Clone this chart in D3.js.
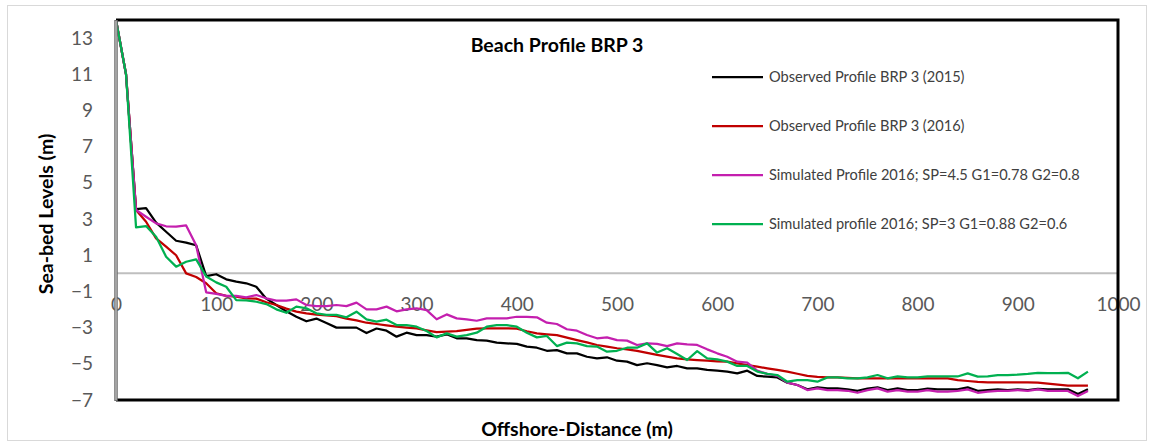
<!DOCTYPE html>
<html>
<head>
<meta charset="utf-8">
<script src="https://cdn.jsdelivr.net/npm/d3@7"></script>
<style>
  body { margin: 0; background: #fff; }
  svg { display: block; font-family: Lato, "Liberation Sans", sans-serif; }
</style>
</head>
<body>
<svg id="chart" width="1152" height="446"></svg>
<script>
// offshore distance (m), one reading every 10 m
var distance = d3.range(0, 980, 10);

var obs2015 = [14, 11, 3.55, 3.6, 2.8, 2.3, 1.8, 1.7, 1.55, -0.15,
  -0.05, -0.33, -0.46, -0.55, -0.74, -1.4, -1.75, -2.1, -2.4, -2.65,
  -2.5, -2.75, -3.0, -3.0, -3.0, -3.3, -3.05, -3.17, -3.5, -3.28,
  -3.41, -3.41, -3.5, -3.37, -3.59, -3.59, -3.69, -3.72, -3.83, -3.87,
  -3.9, -4.05, -4.11, -4.28, -4.24, -4.42, -4.42, -4.61, -4.7, -4.64,
  -4.83, -4.88, -5.07, -4.97, -5.07, -5.2, -5.12, -5.25, -5.25, -5.34,
  -5.38, -5.43, -5.53, -5.38, -5.67, -5.71, -5.75, -6.04, -6.17, -6.41,
  -6.3, -6.36, -6.36, -6.41, -6.49, -6.37, -6.3, -6.45, -6.36, -6.45,
  -6.45, -6.37, -6.41, -6.41, -6.41, -6.3, -6.49, -6.45, -6.41, -6.45,
  -6.41, -6.45, -6.38, -6.41, -6.41, -6.41, -6.67, -6.41];

var obs2016 = [14, 11, 3.5, 2.85, 1.93, 1.47, 1.0, 0.0, -0.2, -0.55,
  -1.1, -1.25, -1.29, -1.38, -1.4, -1.6, -1.75, -1.95, -2.12, -2.21,
  -2.28, -2.32, -2.36, -2.5, -2.6, -2.73, -2.8, -2.88, -2.95, -3.0,
  -3.04, -3.15, -3.25, -3.22, -3.19, -3.12, -3.06, -3.04, -3.04, -3.04,
  -3.06, -3.2, -3.32, -3.37, -3.41, -3.55, -3.69, -3.82, -3.96, -4.05,
  -4.14, -4.2, -4.28, -4.4, -4.51, -4.6, -4.7, -4.75, -4.79, -4.83,
  -4.86, -4.88, -4.97, -5.07, -5.16, -5.25, -5.34, -5.43, -5.55, -5.67,
  -5.72, -5.75, -5.75, -5.78, -5.8, -5.8, -5.8, -5.8, -5.8, -5.8,
  -5.8, -5.8, -5.8, -5.8, -5.9, -5.95, -6.0, -6.02, -6.02, -6.02,
  -6.02, -6.02, -6.04, -6.1, -6.15, -6.21, -6.21, -6.21];

var simSP45 = [14, 11, 3.5, 3.13, 2.76, 2.6, 2.58, 2.65, 1.55, -1.05,
  -1.14, -1.25, -1.25, -1.33, -1.2, -1.38, -1.51, -1.51, -1.44, -1.75,
  -1.81, -1.81, -1.75, -1.81, -1.62, -1.99, -1.99, -1.84, -2.1, -1.99,
  -1.93, -2.03, -2.54, -2.27, -2.49, -2.54, -2.62, -2.49, -2.49, -2.49,
  -2.4, -2.4, -2.43, -2.73, -2.8, -3.09, -3.17, -3.41, -3.59, -3.54,
  -3.69, -3.72, -3.96, -3.87, -3.9, -4.02, -3.87, -3.93, -3.96, -4.2,
  -4.42, -4.61, -4.88, -4.94, -5.38, -5.56, -5.67, -6.04, -6.17, -6.45,
  -6.36, -6.45, -6.45, -6.49, -6.6, -6.45, -6.36, -6.54, -6.45, -6.54,
  -6.54, -6.45, -6.54, -6.54, -6.49, -6.41, -6.6, -6.54, -6.49, -6.49,
  -6.45, -6.49, -6.41, -6.5, -6.5, -6.5, -6.78, -6.5];

var simSP3 = [14, 11, 2.54, 2.61, 2.02, 0.92, 0.37, 0.64, 0.77, -0.17,
  -0.5, -0.74, -1.48, -1.5, -1.57, -1.7, -1.99, -2.18, -1.84, -1.93,
  -2.21, -2.3, -2.3, -2.43, -2.12, -2.54, -2.67, -2.56, -2.86, -2.86,
  -2.95, -3.19, -3.54, -3.32, -3.5, -3.41, -3.28, -2.95, -2.86, -2.86,
  -2.95, -3.28, -3.54, -3.46, -4.02, -3.83, -3.87, -4.02, -4.05, -4.33,
  -4.28, -4.11, -4.11, -3.87, -4.38, -4.14, -4.46, -4.79, -4.3, -4.7,
  -4.75, -4.88, -5.12, -5.12, -5.43, -5.56, -5.62, -5.99, -5.9, -5.9,
  -5.99, -5.75, -5.75, -5.8, -5.8, -5.75, -5.62, -5.8, -5.7, -5.75,
  -5.75, -5.7, -5.7, -5.7, -5.7, -5.53, -5.71, -5.7, -5.62, -5.62,
  -5.6, -5.56, -5.5, -5.52, -5.52, -5.5, -5.8, -5.43];

var seriesNames = [
  "Observed Profile BRP 3 (2015)",
  "Observed Profile BRP 3 (2016)",
  "Simulated Profile 2016; SP=4.5 G1=0.78 G2=0.8",
  "Simulated profile 2016; SP=3 G1=0.88 G2=0.6"
];
var seriesColors = ["#000000", "#c00000", "#c41fae", "#00b050"];
var seriesValues = [obs2015, obs2016, simSP45, simSP3];

var xTicks = d3.range(0, 1001, 100);
var yTicks = d3.range(-7, 14, 2);

var svg = d3.select("#chart");

// outer chart border
svg.append("rect")
  .attr("x", 7.5).attr("y", 5.5)
  .attr("width", 1139).attr("height", 435)
  .attr("fill", "#fff")
  .attr("stroke", "#d9d9d9");

var x = d3.scaleLinear().domain([0, 1000]).range([116, 1118]);
var y = d3.scaleLinear().domain([-7, 14]).range([400, 20]);

// zero line
svg.append("line")
  .attr("x1", x(0)).attr("x2", x(1000))
  .attr("y1", y(0)).attr("y2", y(0))
  .attr("stroke", "#bfbfbf").attr("stroke-width", 2);

// y axis labels
var yAxis = svg.append("g")
  .attr("transform", "translate(" + x(0) + ",0)")
  .call(d3.axisLeft(y).tickValues(yTicks).tickSize(0).tickPadding(23));
yAxis.select(".domain").remove();
yAxis.selectAll("text")
  .attr("font-family", "Lato, 'Liberation Sans', sans-serif")
  .attr("font-size", 19).attr("fill", "#595959");

// x axis labels, hung under the zero line
var xAxis = svg.append("g")
  .attr("transform", "translate(0," + y(0) + ")")
  .call(d3.axisBottom(x).tickValues(xTicks).tickFormat(d3.format("d"))
    .tickSize(0).tickPadding(24));
xAxis.select(".domain").remove();
xAxis.selectAll("text")
  .attr("font-family", "Lato, 'Liberation Sans', sans-serif")
  .attr("font-size", 19).attr("fill", "#595959");

// profile lines
var line = d3.line()
  .x(function (d, i) { return x(distance[i]); })
  .y(function (d) { return y(d); });

seriesValues.forEach(function (vals, k) {
  svg.append("path")
    .datum(vals)
    .attr("fill", "none")
    .attr("stroke", seriesColors[k])
    .attr("stroke-width", 2.25)
    .attr("stroke-linejoin", "round")
    .attr("d", line);
});

// plot frame: black top/right/bottom, grey left axis
svg.append("path")
  .attr("d", "M" + x(0) + "," + y(14) + "H" + x(1000) + "V" + y(-7) + "H" + x(0))
  .attr("fill", "none").attr("stroke", "#000").attr("stroke-width", 3);
svg.append("line")
  .attr("x1", x(0)).attr("x2", x(0)).attr("y1", y(14)).attr("y2", y(-7) + 1)
  .attr("stroke", "#6d6d6d").attr("stroke-width", 3.5);
svg.append("line")
  .attr("x1", x(0)).attr("x2", x(0)).attr("y1", y(14) + 1).attr("y2", y(-7))
  .attr("stroke", "#c8c8c8").attr("stroke-width", 1.2);

// title
svg.append("text")
  .attr("x", 557).attr("y", 51.5)
  .attr("text-anchor", "middle")
  .attr("font-size", 19.5).attr("font-weight", "bold").attr("fill", "#000")
  .text("Beach Profile BRP 3");

// axis titles
svg.append("text")
  .attr("x", 577).attr("y", 436)
  .attr("text-anchor", "middle")
  .attr("font-size", 19.5).attr("font-weight", "bold").attr("fill", "#000")
  .text("Offshore-Distance (m)");
svg.append("text")
  .attr("transform", "translate(53,214) rotate(-90)")
  .attr("text-anchor", "middle")
  .attr("font-size", 19.5).attr("font-weight", "bold").attr("fill", "#000")
  .text("Sea-bed Levels (m)");

// legend
var legend = svg.append("g").attr("transform", "translate(712,77)");
seriesNames.forEach(function (name, k) {
  var g = legend.append("g").attr("transform", "translate(0," + (k * 49) + ")");
  g.append("line")
    .attr("x1", 0).attr("x2", 51).attr("y1", 0).attr("y2", 0)
    .attr("stroke", seriesColors[k]).attr("stroke-width", 2.25);
  g.append("text")
    .attr("x", 57).attr("y", 0).attr("dy", "0.35em")
    .attr("font-size", 14.6).attr("fill", "#404040")
    .text(name);
});
</script>
</body>
</html>
